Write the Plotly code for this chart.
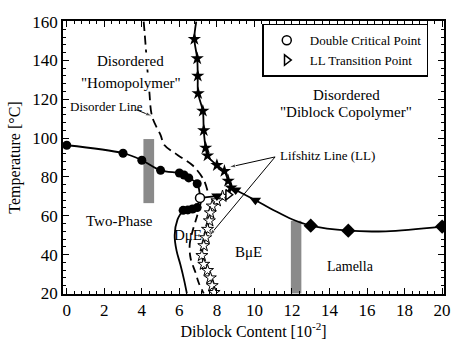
import plotly.graph_objects as go

# ---------------- data ----------------
# two-phase boundary, filled circles (upper branch)
circ_hi_x = [0, 3, 4, 5, 6.0, 6.25, 6.5, 6.95]
circ_hi_y = [96.3, 92.2, 88.6, 83.4, 82.0, 81.0, 79.5, 76.5]
# filled circles (lower branch)
circ_lo_x = [6.2, 6.45, 6.7, 6.95]
circ_lo_y = [62.8, 63.0, 63.5, 64.2]
# solid curve below the lower circles
lo_curve_x = [6.2, 5.9, 5.75, 5.85, 6.05, 6.25, 6.4]
lo_curve_y = [62.8, 58.0, 50.0, 42.0, 35.0, 27.0, 20.0]
# double critical point
dcp_x = [7.1]
dcp_y = [69.2]
# LL transition point
llt_x = [8.6]
llt_y = [70.8]
# line from DCP to LL transition point
mid_x = [7.1, 8.0, 8.6]
mid_y = [69.2, 70.2, 70.8]
# filled triangles
tri_x = [8.0, 9.0, 10.05]
tri_y = [70.2, 73.3, 68.0]
# lamellar boundary line
lam_x = [8.75, 9.0, 10.05, 11.0, 12.0, 13.0, 15.0, 17.0, 20.0]
lam_y = [74.5, 73.3, 68.0, 63.0, 58.2, 54.9, 52.3, 52.0, 54.4]
# diamonds
dia_x = [13.0, 15.0, 20.0]
dia_y = [54.9, 52.3, 54.4]
# Lifshitz line, filled stars (upper)
fstar_x = [6.8, 6.95, 6.98, 7.0, 7.25, 7.3, 7.4, 7.5, 8.0, 8.4, 8.6, 8.75]
fstar_y = [151, 141, 132, 123, 114, 104, 95, 91, 86, 83, 78, 74.5]
fline_x = [6.9] + fstar_x + [8.6]
fline_y = [160] + fstar_y + [70.8]
# Lifshitz line, open stars (lower)
ostar_x = [8.3, 8.0, 7.75, 7.65, 7.6, 7.5, 7.4, 7.3, 7.2, 7.3, 7.5, 7.65, 7.75, 7.85]
ostar_y = [70.0, 67.7, 65.0, 61.5, 57.4, 53.0, 48.7, 44.6, 39.5, 35.0, 31.8, 28.0, 24.0, 20.5]
oline_x = [8.6] + ostar_x
oline_y = [70.8] + ostar_y
# disorder lines (dashed)
dash_hi_x = [4.1, 4.2, 4.3, 4.4, 4.55, 5.0, 5.2, 5.9, 6.7, 7.3, 7.5]
dash_hi_y = [160, 148, 135, 124, 111, 101.5, 96.4, 91.3, 86.0, 78.5, 72.8]
dash_lo_x = [7.15, 6.95, 6.7, 6.55, 6.6, 6.85, 7.05, 7.3]
dash_lo_y = [67.0, 60.0, 52.0, 45.0, 38.0, 31.0, 25.0, 20.0]
# gray bars
bar_x = [4.37, 12.22]
bar_w = [0.57, 0.56]
bar_lo = [66.5, 20.0]
bar_hi = [99.5, 57.4]
# Lifshitz-line label pointer targets
ll_tail = (11.1, 90.3)
ll_heads_x = [8.64, 7.6]
ll_heads_y = [85.0, 49.7]
# disorder-line label pointer
dl_x = [3.7, 4.55]
dl_y = [114.6, 111.3]

FONT = "Liberation Serif"
BLK = "black"

fig = go.Figure()

fig.add_trace(go.Bar(x=bar_x, y=[h - l for h, l in zip(bar_hi, bar_lo)], base=bar_lo,
                     width=bar_w, marker=dict(color="rgb(138,138,138)", line=dict(width=0)),
                     showlegend=False, hoverinfo="skip"))

line_kw = dict(color=BLK, width=1.8)
fig.add_trace(go.Scatter(x=dash_hi_x, y=dash_hi_y, mode="lines", line_shape="spline",
                         line=dict(color=BLK, width=1.8, dash="9px,5px"), showlegend=False))
fig.add_trace(go.Scatter(x=dash_lo_x, y=dash_lo_y, mode="lines", line_shape="spline",
                         line=dict(color=BLK, width=1.8, dash="8px,5px"), showlegend=False))
fig.add_trace(go.Scatter(x=circ_hi_x + dcp_x, y=circ_hi_y + dcp_y, mode="lines", line_shape="spline",
                         line=line_kw, showlegend=False))
fig.add_trace(go.Scatter(x=dcp_x + circ_lo_x[::-1], y=dcp_y + circ_lo_y[::-1], mode="lines",
                         line=line_kw, showlegend=False))
fig.add_trace(go.Scatter(x=lo_curve_x, y=lo_curve_y, mode="lines", line_shape="spline",
                         line=line_kw, showlegend=False))
fig.add_trace(go.Scatter(x=mid_x, y=mid_y, mode="lines", line=line_kw, showlegend=False))
fig.add_trace(go.Scatter(x=lam_x, y=lam_y, mode="lines", line_shape="spline",
                         line=line_kw, showlegend=False))
fig.add_trace(go.Scatter(x=fline_x, y=fline_y, mode="lines", line_shape="spline",
                         line=line_kw, showlegend=False))
fig.add_trace(go.Scatter(x=oline_x, y=oline_y, mode="lines", line_shape="spline",
                         line=dict(color=BLK, width=1.2), showlegend=False))

# markers
fig.add_trace(go.Scatter(x=circ_hi_x + circ_lo_x, y=circ_hi_y + circ_lo_y, mode="markers",
                         marker=dict(symbol="circle", size=9, color=BLK), showlegend=False))
fig.add_trace(go.Scatter(x=fstar_x, y=fstar_y, mode="markers",
                         marker=dict(symbol="star", size=10, color=BLK), showlegend=False))
fig.add_trace(go.Scatter(x=ostar_x, y=ostar_y, mode="markers",
                         marker=dict(symbol="star", size=9, color="white", line=dict(color=BLK, width=1)),
                         showlegend=False))
fig.add_trace(go.Scatter(x=tri_x, y=tri_y, mode="markers",
                         marker=dict(symbol="triangle-down", size=10, color=BLK), showlegend=False))
fig.add_trace(go.Scatter(x=dia_x, y=dia_y, mode="markers",
                         marker=dict(symbol="diamond", size=11, color=BLK), showlegend=False))
fig.add_trace(go.Scatter(x=dcp_x, y=dcp_y, mode="markers", name="Double Critical Point",
                         marker=dict(symbol="circle", size=9, color="white", line=dict(color=BLK, width=1.5))))
fig.add_trace(go.Scatter(x=llt_x, y=llt_y, mode="markers", name="LL Transition Point",
                         marker=dict(symbol="triangle-right", size=9, color="white", line=dict(color=BLK, width=1.5))))

# pointer lines
for hx, hy in zip(ll_heads_x, ll_heads_y):
    fig.add_trace(go.Scatter(x=[ll_tail[0], hx], y=[ll_tail[1], hy], mode="lines+markers",
                             line=dict(color=BLK, width=1), showlegend=False, hoverinfo="skip",
                             marker=dict(symbol="arrow", angleref="previous", size=[0, 7], color=BLK)))
fig.add_trace(go.Scatter(x=dl_x, y=dl_y, mode="lines+markers", showlegend=False, hoverinfo="skip",
                         line=dict(color=BLK, width=1),
                         marker=dict(symbol="arrow", angleref="previous", size=[0, 7], color=BLK)))


def txt(x, y, s, size=14, bg=None, xanchor="center"):
    d = dict(x=x, y=y, xref="x", yref="y", text=s, showarrow=False, xanchor=xanchor,
             font=dict(family=FONT, size=size, color=BLK))
    if bg:
        d["bgcolor"] = bg
        d["borderpad"] = 0
    fig.add_annotation(**d)


txt(3.4, 139.5, "Disordered", 15, bg="white")
txt(3.4, 128.5, "\"Homopolymer\"", 15, bg="white")
txt(2.1, 116.5, "Disorder Line", 13)
txt(14.9, 122, "Disordered", 15)
txt(14.9, 113.5, "\"Diblock Copolymer\"", 15)
txt(11.25, 91, "Lifshitz Line (LL)", 13, xanchor="left")
txt(2.8, 57.5, "Two-Phase", 15)
txt(6.45, 50, "DμE", 15)
txt(9.7, 41.5, "BμE", 15)
txt(15.1, 34, "Lamella", 14)

axis_common = dict(showline=True, linecolor=BLK, linewidth=1.5, mirror="allticks",
                   ticks="inside", ticklen=6, tickwidth=1, tickcolor=BLK,
                   showgrid=False, zeroline=False,
                   tickfont=dict(family=FONT, size=17, color=BLK))

fig.update_xaxes(range=[-0.2, 20.1], tick0=0, dtick=2,
                 minor=dict(dtick=0.4, ticks="inside", ticklen=3, tickcolor=BLK, showgrid=False),
                 title=dict(text="Diblock Content [10<sup>-2</sup>]", standoff=6,
                            font=dict(family=FONT, size=16, color=BLK)),
                 **axis_common)
fig.update_yaxes(range=[19.7, 160.3], tick0=0, dtick=20,
                 minor=dict(dtick=4, ticks="inside", ticklen=3, tickcolor=BLK, showgrid=False),
                 title=dict(text="Temperature [°C]", standoff=8,
                            font=dict(family=FONT, size=16, color=BLK)),
                 **axis_common)

fig.update_layout(width=458, height=344, margin=dict(l=63, r=7, t=21, b=48),
                  plot_bgcolor="white", paper_bgcolor="white", barmode="overlay",
                  legend=dict(x=0.523, y=0.99, xanchor="left", yanchor="top",
                              bgcolor="white", bordercolor=BLK, borderwidth=1.5,
                              font=dict(family=FONT, size=13, color=BLK),
                              itemwidth=36, tracegroupgap=0, entrywidth=150),
                  font=dict(family=FONT, color=BLK))

fig.write_html("out.html")
